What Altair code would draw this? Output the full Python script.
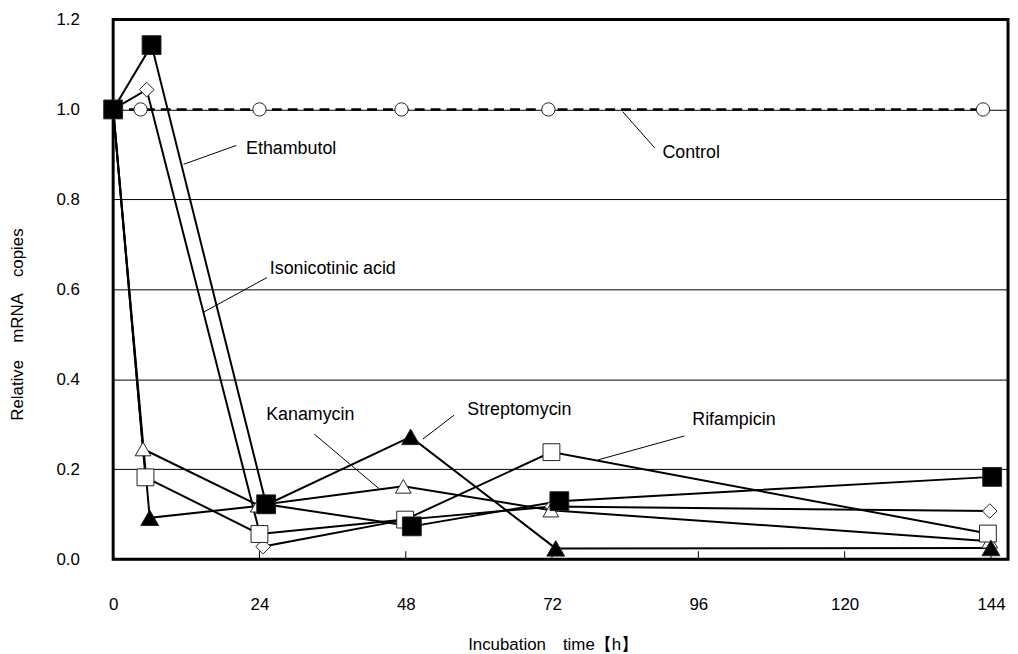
import altair as alt
import pandas as pd

# ---- data (hours, relative copies) ----
control_h = [0, 4.5, 24, 47.3, 71.4, 142.7]
control_v = [1.0, 1.0, 1.0, 1.0, 1.0, 1.0]

isonic_h = [0, 5.5, 24.6, 48.0, 72.0, 143.8]
isonic_v = [1.0, 1.044, 0.028, 0.088, 0.117, 0.107]

kana_h = [0, 4.9, 23.8, 47.6, 71.8, 143.8]
kana_v = [1.0, 0.245, 0.120, 0.162, 0.109, 0.040]

rifa_h = [0, 5.3, 24.0, 47.9, 71.9, 143.5]
rifa_v = [1.0, 0.182, 0.056, 0.088, 0.238, 0.057]

strep_h = [0, 6.0, 25.0, 48.8, 72.6, 144.0]
strep_v = [1.0, 0.092, 0.120, 0.272, 0.024, 0.025]

etham_h = [0, 6.3, 25.1, 49.0, 73.2, 144.2]
etham_v = [1.0, 1.143, 0.122, 0.073, 0.129, 0.183]

series_names = ["Control", "Isonicotinic acid", "Kanamycin", "Rifampicin",
                "Streptomycin", "Ethambutol"]
series_shapes = ["circle", "diamond", "triangle-up", "square", "triangle-up", "square"]
series_fills = ["white", "white", "white", "white", "black", "black"]

x_ticks = [0, 24, 48, 72, 96, 120, 144]
y_ticks = [0.0, 0.2, 0.4, 0.6, 0.8, 1.0, 1.2]

# annotation labels (data units)
ann_text = ["Ethambutol", "Isonicotinic acid", "Control", "Kanamycin",
            "Streptomycin", "Rifampicin"]
ann_x = [21.8, 25.7, 90.1, 25.1, 58.1, 95.0]
ann_y = [0.913, 0.646, 0.902, 0.320, 0.331, 0.309]
lead_x = [20.2, 25.2, 88.8, 33.0, 55.9, 93.7]
lead_y = [0.920, 0.626, 0.915, 0.278, 0.320, 0.274]
lead_x2 = [11.55, 14.8, 83.6, 43.6, 50.8, 79.6]
lead_y2 = [0.878, 0.549, 0.995, 0.157, 0.267, 0.221]

# ---- tables ----
rows = []
for name, hs, vs in zip(series_names,
                        [control_h, isonic_h, kana_h, rifa_h, strep_h, etham_h],
                        [control_v, isonic_v, kana_v, rifa_v, strep_v, etham_v]):
    for i, (h, v) in enumerate(zip(hs, vs)):
        rows.append({"series": name, "h": h, "v": v, "i": i})
df = pd.DataFrame(rows)
ann = pd.DataFrame({"t": ann_text, "x": ann_x, "y": ann_y})
lead = pd.DataFrame({"x": lead_x, "y": lead_y, "x2": lead_x2, "y2": lead_y2})
ticks_df = pd.DataFrame({"h": x_ticks[1:]})

FONT = "Liberation Sans"

xscale = alt.Scale(domain=[0, 146.8], nice=False, zero=False)
yscale = alt.Scale(domain=[0, 1.2], nice=False, zero=False)

xaxis = alt.Axis(values=x_ticks, grid=False, ticks=False, domain=False,
                 labelPadding=38, labelFontSize=17, labelFont=FONT,
                 labelColor="black", labelFlush=False,
                 title="Incubation\u3000time【h】", titleFontSize=17,
                 titleFont=FONT, titleFontWeight="normal", titleColor="black",
                 titleX=443, titleY=86, titleAlign="center",
                 titleBaseline="middle")
yaxis = alt.Axis(values=y_ticks, format=".1f", grid=True, gridColor="black",
                 gridWidth=1, gridOpacity=1, ticks=False, domain=False,
                 labelPadding=34, labelFontSize=17, labelFont=FONT,
                 labelColor="black", labelFlush=False,
                 title="Relative\u3000mRNA\u3000copies", titleFontSize=17,
                 titleFont=FONT, titleFontWeight="normal", titleColor="black",
                 titleAngle=-90, titleX=-96, titleY=307, titleAlign="center",
                 titleBaseline="middle")

base = alt.Chart(df)

lines = base.transform_filter(alt.datum.series != "Control").mark_line(
    color="black", strokeWidth=2
).encode(
    x=alt.X("h:Q", scale=xscale, axis=xaxis),
    y=alt.Y("v:Q", scale=yscale, axis=yaxis),
    detail="series:N",
    order="i:Q",
)

control_line = base.transform_filter(alt.datum.series == "Control").mark_line(
    color="black", strokeWidth=2.6, strokeDash=[10, 6]
).encode(
    x=alt.X("h:Q", scale=xscale),
    y=alt.Y("v:Q", scale=yscale),
    order="i:Q",
)

points = base.mark_point(filled=True, opacity=1, stroke="#222", strokeWidth=1).encode(
    x=alt.X("h:Q", scale=xscale),
    y=alt.Y("v:Q", scale=yscale),
    shape=alt.Shape("series:N", scale=alt.Scale(domain=series_names, range=series_shapes), legend=None),
    fill=alt.Fill("series:N", scale=alt.Scale(domain=series_names, range=series_fills), legend=None),
    size=alt.Size("series:N", scale=alt.Scale(domain=series_names,
                                             range=[180, 360, 250, 240, 260, 256]), legend=None),
)

tick_marks = alt.Chart(ticks_df).mark_rule(color="black", strokeWidth=1).encode(
    x=alt.X("h:Q", scale=xscale),
    y=alt.value(544),
    y2=alt.value(536),
)

leaders = alt.Chart(lead).mark_rule(color="black", strokeWidth=1).encode(
    x=alt.X("x:Q", scale=xscale),
    y=alt.Y("y:Q", scale=yscale),
    x2="x2:Q",
    y2="y2:Q",
)

labels = alt.Chart(ann).mark_text(align="left", baseline="middle", font=FONT,
                                  fontSize=18, color="black").encode(
    x=alt.X("x:Q", scale=xscale),
    y=alt.Y("y:Q", scale=yscale),
    text="t:N",
)

chart = alt.layer(tick_marks, lines, control_line, leaders, points, labels).properties(
    width=902, height=544,
    autosize=alt.AutoSizeParams(type="none"),
    padding={"left": 106, "top": 9, "right": 2, "bottom": 95},
    background="white",
).configure_view(stroke="black", strokeWidth=3)

chart.save("out.html", embed_options={"renderer": "svg", "actions": False})
